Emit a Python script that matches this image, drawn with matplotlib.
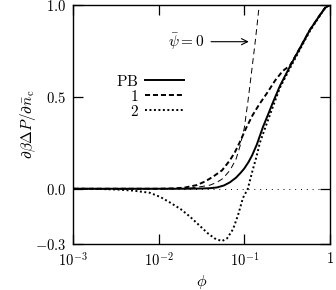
import matplotlib
matplotlib.use('Agg')
import matplotlib.pyplot as plt
from matplotlib.ticker import FixedLocator, NullLocator, FixedFormatter

plt.rcParams['mathtext.fontset'] = 'cm'
plt.rcParams['font.family'] = 'serif'
plt.rcParams['font.size'] = 10

# curves: (phi, d(beta dP)/dn_c)
phi_pb = [0.001, 0.01, 0.02, 0.03, 0.04, 0.048, 0.058, 0.068, 0.08, 0.09, 0.10,
          0.112, 0.123, 0.14, 0.165, 0.19, 0.216, 0.261, 0.341, 0.447, 0.583,
          0.764, 0.88, 1.0]
val_pb = [0.0, 0.0, 0.0, 0.001, 0.003, 0.007, 0.018, 0.035, 0.06, 0.085, 0.11,
          0.145, 0.18, 0.24, 0.335, 0.405, 0.47, 0.56, 0.665, 0.766, 0.864,
          0.945, 0.985, 1.0]

phi_1 = [0.001, 0.01, 0.015, 0.02, 0.028, 0.035, 0.043, 0.055, 0.068, 0.078, 0.089,
         0.105, 0.125, 0.15, 0.184, 0.23, 0.28, 0.341, 0.447, 0.583, 0.764,
         0.88, 1.0]
val_1 = [0.0, 0.0, 0.002, 0.006, 0.02, 0.04, 0.065, 0.10, 0.155, 0.20, 0.255,
         0.33, 0.40, 0.46, 0.52, 0.59, 0.64, 0.67, 0.766, 0.864, 0.945,
         0.985, 1.0]

phi_2 = [0.001, 0.002, 0.0035, 0.005, 0.0079, 0.0105, 0.0136, 0.018, 0.023, 0.03,
         0.037, 0.045, 0.0548, 0.063, 0.074, 0.085, 0.0965, 0.11, 0.125, 0.138,
         0.152, 0.175, 0.204, 0.261, 0.341, 0.447, 0.583, 0.764, 0.88, 1.0]
val_2 = [0.0, -0.001, -0.005, -0.01, -0.022, -0.045, -0.075, -0.11, -0.15, -0.20,
         -0.24, -0.27, -0.285, -0.27, -0.22, -0.14, -0.05, 0.0, 0.10, 0.17,
         0.25, 0.33, 0.415, 0.55, 0.655, 0.758, 0.858, 0.942, 0.984, 1.0]

# psi-bar = 0 reference curve
phi_psi0 = [0.001, 0.015, 0.023, 0.03, 0.04, 0.048, 0.056, 0.068, 0.08, 0.089,
            0.10, 0.11, 0.125, 0.135, 0.148, 0.16]
val_psi0 = [0.0, 0.0, 0.003, 0.01, 0.02, 0.035, 0.055, 0.10, 0.16, 0.23,
            0.33, 0.47, 0.68, 0.81, 0.98, 1.15]

xticks = [1e-3, 1e-2, 1e-1, 1.0]
xticklabels = [r'$10^{-3}$', r'$10^{-2}$', r'$10^{-1}$', r'$1$']
yticks = [-0.3, 0.0, 0.5, 1.0]
yticklabels = [r'$-0.3$', r'$0.0$', r'$0.5$', r'$1.0$']

fig = plt.figure(figsize=(3.36, 2.90), dpi=100)
ax = fig.add_axes([0.217, 0.159, 0.765, 0.824])

ax.axhline(0.0, color='k', lw=0.7, dashes=(1, 5))
ax.plot(phi_psi0, val_psi0, color='k', lw=0.7, dashes=(6, 4))
ax.plot(phi_pb, val_pb, color='k', lw=1.4, label=r'$\mathrm{PB}$')
ax.plot(phi_1, val_1, color='k', lw=1.4, dashes=(2.6, 1.5), label=r'$1$')
ax.plot(phi_2, val_2, color='k', lw=1.4, dashes=(1, 1.3), label=r'$2$')

ax.set_xscale('log')
ax.set_xlim(1e-3, 1.0)
ax.set_ylim(-0.3, 1.0)
ax.xaxis.set_major_locator(FixedLocator(xticks))
ax.xaxis.set_major_formatter(FixedFormatter(xticklabels))
ax.xaxis.set_minor_locator(NullLocator())
ax.yaxis.set_major_locator(FixedLocator(yticks))
ax.yaxis.set_major_formatter(FixedFormatter(yticklabels))
ax.tick_params(direction='in', length=7, width=0.9, top=True, right=True,
               labelsize=10.5, pad=5)
for s in ax.spines.values():
    s.set_linewidth(1.0)

ax.set_xlabel(r'$\phi$', fontsize=11.5, labelpad=3)
ax.set_ylabel(r'$\partial\beta\Delta P/\partial\bar{n}_\mathrm{c}$', fontsize=11)
ax.yaxis.set_label_coords(-0.136, 0.5)

ax.annotate(r'$\bar{\psi}=0$', xy=(0.113, 0.8), xytext=(0.034, 0.8),
            ha='right', va='center', fontsize=11,
            arrowprops=dict(arrowstyle='->', lw=0.8, color='k', shrinkA=3, shrinkB=0))

ax.legend(loc='upper right', bbox_to_anchor=(0.432, 0.712), frameon=False,
          markerfirst=False, handlelength=2.55, handletextpad=0.4,
          labelspacing=0.0, borderpad=0, borderaxespad=0, fontsize=11)

fig.savefig('out.png', dpi=100)
